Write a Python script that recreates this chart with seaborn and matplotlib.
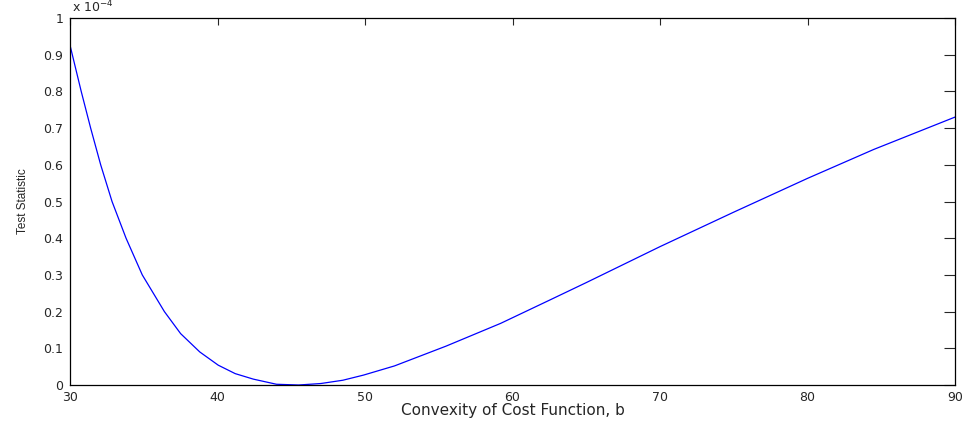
import matplotlib
matplotlib.use("Agg")
import matplotlib.pyplot as plt
import pandas as pd
import seaborn as sns
from matplotlib.ticker import FuncFormatter

sns.set_style("white")
plt.rcParams['font.family'] = ['DejaVu Sans']

# values (test statistic in units of 1e-4)
convexity = [30.0, 30.76, 31.4, 32.08, 32.85, 33.8, 34.9, 36.4, 37.5, 38.8,
             40.05, 41.2, 42.43, 44.0, 45.5, 47.0, 48.5, 49.9, 52.0,
             55.5, 59.2, 62.5, 65.0, 70.0, 75.0, 80.0, 84.5, 90.0]
test_stat = [0.926, 0.80, 0.70, 0.60, 0.50, 0.40, 0.30, 0.20, 0.14, 0.09,
             0.054, 0.031, 0.016, 0.002, 0.0, 0.004, 0.013, 0.027, 0.052,
             0.106, 0.168, 0.231, 0.279, 0.377, 0.471, 0.563, 0.642, 0.73]
x_ticks = [30, 40, 50, 60, 70, 80, 90]
y_ticks = [0, 0.1, 0.2, 0.3, 0.4, 0.5, 0.6, 0.7, 0.8, 0.9, 1]

df = pd.DataFrame({'b': convexity, 'stat': test_stat})

fig = plt.figure(figsize=(9.67, 4.24), dpi=100)
ax = fig.add_axes([70/967, 1-385/424, 885/967, 367/424])

sns.lineplot(data=df, x='b', y='stat', color='#0000ff', linewidth=0.9, ax=ax)

ax.set_xlim(30, 90)
ax.set_ylim(0, 1)
ax.set_xticks(x_ticks)
ax.set_yticks(y_ticks)
ax.yaxis.set_major_formatter(FuncFormatter(lambda v, p: f'{v:g}'))
ax.tick_params(axis='x', direction='in', length=5, width=0.8, top=True,
               labelsize=9, pad=4.5)
ax.tick_params(axis='y', direction='in', length=8, width=0.8, right=True,
               labelsize=9, pad=5)
for s in ax.spines.values():
    s.set_color('black')
    s.set_linewidth(0.9)

ax.set_xlabel('Convexity of Cost Function, b', fontsize=11, labelpad=-1)
ax.set_ylabel('Test Statistic', fontsize=8.5, labelpad=10,
              family=['Liberation Sans'])
ax.text(0.002, 1.008, r'x 10$^{-4}$', transform=ax.transAxes,
        fontsize=9, ha='left', va='bottom')

plt.savefig('out.png', dpi=100)
